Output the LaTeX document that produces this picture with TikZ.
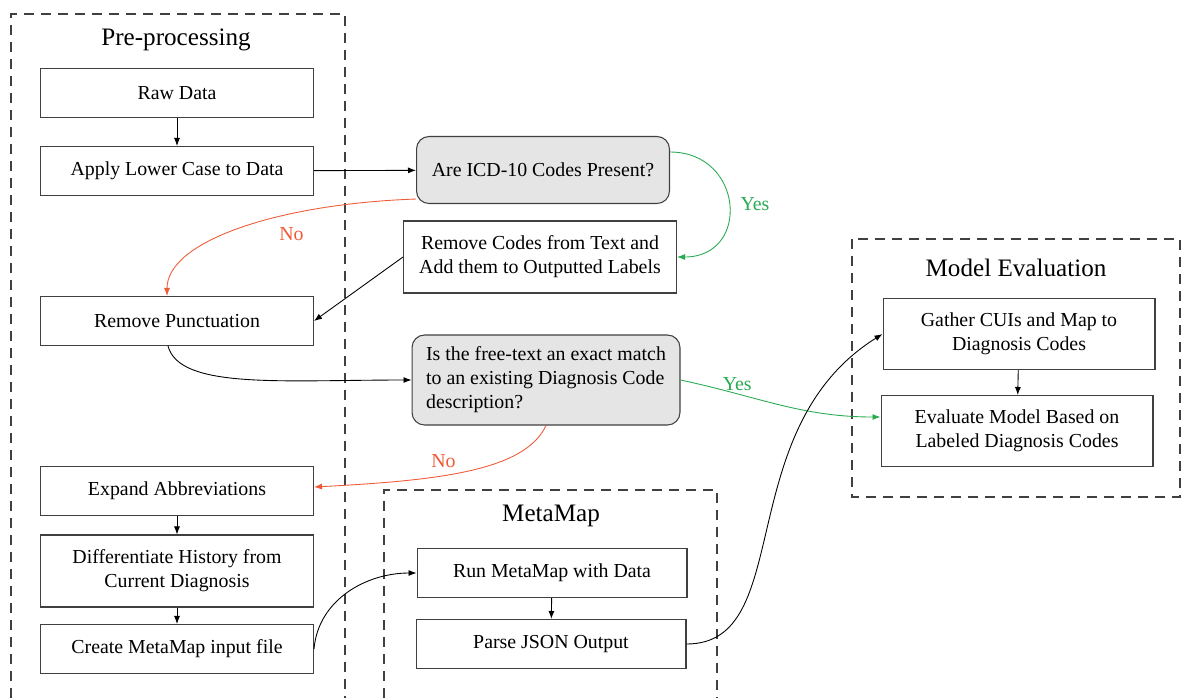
\documentclass[tikz,border=0pt]{standalone}
\usepackage{fontspec}
\setmainfont{Liberation Serif}
\usetikzlibrary{shapes,arrows.meta}
\definecolor{yesgreen}{RGB}{40,170,80}
\definecolor{nored}{RGB}{240,90,55}

\begin{document}
\begin{tikzpicture}[x=0.02cm,y=-0.02cm]
		\tikzstyle {process} = [draw=black!75, line width=0.6pt, minimum width=5.46cm, minimum height=0.98cm, align=center, font=\fontsize{11.3}{13.6}\selectfont]
		\tikzstyle {question} = [process, fill=black!10, rounded corners=2.5mm]
		\tikzstyle {group} = [draw=black!75, line width=0.7pt, dash pattern=on 0.2cm off 0.14cm]
		\tikzstyle {title} = [font=\fontsize{14.3}{17}\selectfont]
		\tikzstyle {flow} = [-{Latex[length=1.6mm,width=1.2mm]}, line width=0.5pt]
		\tikzstyle {yes flow} = [flow, yesgreen]
		\tikzstyle {no flow} = [flow, nored]
		\tikzstyle {answer} = [font=\fontsize{11.3}{13.6}\selectfont]

		\useasboundingbox (0,0) rectangle (1181,698);

		% dashed groups
		\draw[group] (11,698) -- (11,14) -- (345,14) -- (345,698);
		\draw[group] (384,698) -- (384,490) -- (717,490) -- (717,698);
		\draw[group] (852,239) rectangle (1180,497);

		\node[title] (pretitle) at (176,40) {Pre-processing};
		\node[title] (mmtitle) at (551,516) {MetaMap};
		\node[title] (evaltitle) at (1016,268) {Model Evaluation};

		% pre-processing
		\node[process] (raw) at (177,93) {Raw Data};
		\node[process] (lower) at (177,171) {Apply Lower Case to Data};
		\node[process] (punct) at (177,321) {Remove Punctuation};
		\node[process] (expand) at (177,491) {Expand Abbreviations};
		\node[process, minimum height=1.44cm] (history) at (177,571) {Differentiate History from\\Current Diagnosis};
		\node[process] (input) at (177,649) {Create MetaMap input file};

		% decisions
		\node[question, minimum width=5.06cm, minimum height=1.34cm] (icd) at (543,170) {Are ICD-10 Codes Present?};
		\node[process, minimum height=1.44cm] (codes) at (540,257) {Remove Codes from Text and\\Add them to Outputted Labels};
		\node[question, align=left, minimum width=5.36cm, minimum height=1.8cm] (exact) at (546,380) {Is the free-text an exact match\\to an existing Diagnosis Code\\description?};

		% metamap
		\node[process, minimum width=5.4cm] (run) at (552,573) {Run MetaMap with Data};
		\node[process, minimum width=5.4cm] (parse) at (551,644) {Parse JSON Output};

		% model evaluation
		\node[process, minimum width=5.44cm, minimum height=1.42cm] (gather) at (1019,334) {Gather CUIs and Map to\\Diagnosis Codes};
		\node[process, minimum width=5.44cm, minimum height=1.42cm] (evaluate) at (1017,431) {Evaluate Model Based on\\Labeled Diagnosis Codes};

		% connectors
		\draw[flow] (raw) -- (lower);
		\draw[flow] (lower) -- (icd);
		\draw[yes flow] ([yshift=0.36cm]icd.east) to[out=0, in=0, looseness=1.8] node[answer, right=3pt] {Yes} (codes.east);
		\draw[no flow] ([yshift=0.1cm]icd.south west) to[out=182, in=90, out distance=2.75cm, in distance=1.1cm] node[answer, pos=0.33, below=4pt] {No} ([xshift=-0.2cm]punct.north);
		\draw[flow] (codes.west) -- (punct.east);
		\draw[flow] ([xshift=-0.18cm]punct.south) to[out=-75, in=180, out distance=0.9cm, in distance=2.6cm] (exact.west);
		\draw[yes flow] (exact.east) to[out=-12, in=180] node[answer, pos=0.27, above=-2pt] {Yes} ([yshift=0.28cm]evaluate.west);
		\draw[no flow] (exact.south) to[out=-115, in=3, out distance=1cm, in distance=2.5cm] node[answer, pos=0.6, above=1pt] {No} ([yshift=0.08cm]expand.east);
		\draw[flow] (expand) -- (history);
		\draw[flow] (history) -- (input);
		\draw[flow] (input.east) to[out=85, in=180] (run.west);
		\draw[flow] (run) -- (parse);
		\draw[flow] (parse.east) to[out=0, in=212, out distance=2.2cm, in distance=3.6cm] (gather.west);
		\draw[flow] (gather) -- (evaluate);
	\end{tikzpicture}
\end{document}
